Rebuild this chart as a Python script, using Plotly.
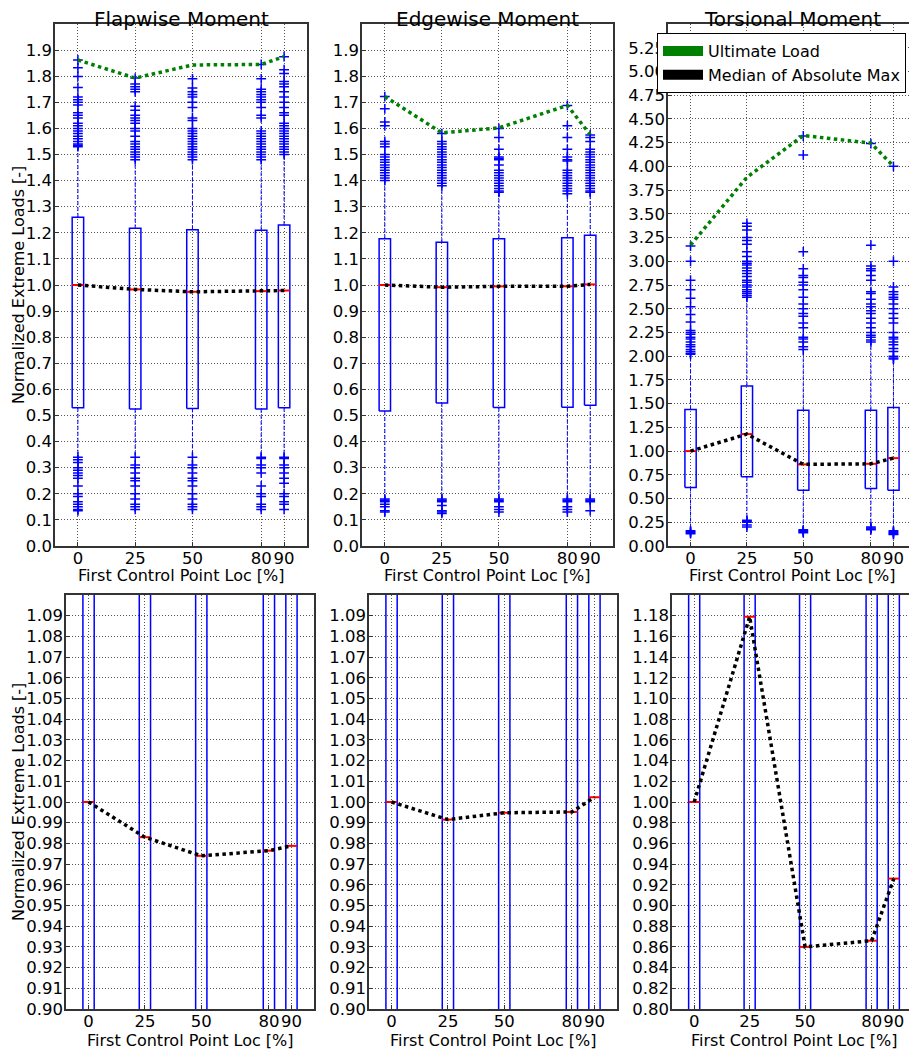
import plotly.graph_objects as go

# ---------------- data ----------------
positions = [0, 25, 50, 80, 90]
tick_text = ["0", "25", "50", "80", "90"]
box_width = 5

titles = ["Flapwise Moment", "Edgewise Moment", "Torsional Moment"]

# Flapwise
flap_ultimate = [1.862, 1.793, 1.843, 1.845, 1.875]
flap_median = [1.000, 0.983, 0.974, 0.9765, 0.9788]
flap_q1 = [0.530, 0.525, 0.527, 0.525, 0.530]
flap_q3 = [1.260, 1.217, 1.212, 1.210, 1.230]
flap_whisk_hi = [1.525, 1.475, 1.475, 1.475, 1.495]
flap_whisk_lo = [0.345, 0.345, 0.345, 0.345, 0.345]
flap_fliers = [
    [1.862, 1.832, 1.799, 1.757, 1.72, 1.71, 1.70, 1.69, 1.66, 1.65, 1.64, 1.62, 1.61, 1.60,
     1.59, 1.58, 1.57, 1.56, 1.55, 1.54, 1.535, 1.53,
     0.34, 0.33, 0.32, 0.30, 0.29, 0.28, 0.27, 0.26, 0.23, 0.20, 0.19, 0.17, 0.16, 0.15, 0.14, 0.135],
    [1.793, 1.77, 1.76, 1.75, 1.74, 1.685, 1.67, 1.65, 1.64, 1.63, 1.62, 1.60, 1.59, 1.57,
     1.55, 1.54, 1.53, 1.52, 1.51, 1.50, 1.49, 1.48,
     0.34, 0.31, 0.30, 0.28, 0.26, 0.25, 0.23, 0.20, 0.18, 0.16, 0.15, 0.14],
    [1.79, 1.755, 1.74, 1.73, 1.72, 1.70, 1.68, 1.64, 1.63, 1.60, 1.59, 1.58, 1.57, 1.56,
     1.55, 1.54, 1.53, 1.52, 1.51, 1.50, 1.49, 1.48,
     0.34, 0.31, 0.30, 0.28, 0.26, 0.25, 0.23, 0.20, 0.18, 0.16, 0.15, 0.14],
    [1.845, 1.79, 1.75, 1.74, 1.73, 1.72, 1.71, 1.70, 1.68, 1.65, 1.64, 1.59, 1.58, 1.57,
     1.56, 1.55, 1.54, 1.53, 1.52, 1.51, 1.50, 1.49, 1.48,
     0.34, 0.335, 0.31, 0.30, 0.28, 0.23, 0.20, 0.19, 0.16, 0.15, 0.14],
    [1.875, 1.825, 1.81, 1.78, 1.77, 1.76, 1.74, 1.72, 1.70, 1.68, 1.66, 1.65, 1.62, 1.61,
     1.60, 1.59, 1.58, 1.57, 1.56, 1.55, 1.54, 1.53, 1.52, 1.51, 1.50,
     0.34, 0.335, 0.31, 0.30, 0.28, 0.26, 0.24, 0.20, 0.19, 0.17, 0.16, 0.14],
]

# Edgewise
edge_ultimate = [1.722, 1.583, 1.602, 1.688, 1.576]
edge_median = [1.000, 0.9915, 0.9948, 0.9952, 1.0023]
edge_q1 = [0.517, 0.548, 0.531, 0.532, 0.539]
edge_q3 = [1.177, 1.164, 1.177, 1.181, 1.191]
edge_whisk_hi = [1.395, 1.375, 1.35, 1.345, 1.35]
edge_whisk_lo = [0.19, 0.19, 0.19, 0.19, 0.19]
edge_fliers = [
    [1.722, 1.675, 1.625, 1.61, 1.55, 1.54, 1.53, 1.50, 1.49, 1.48, 1.47, 1.46, 1.45, 1.44,
     1.43, 1.42, 1.41, 1.40,
     0.18, 0.175, 0.17, 0.16, 0.15, 0.135, 0.13],
    [1.58, 1.55, 1.54, 1.53, 1.52, 1.51, 1.50, 1.49, 1.48, 1.47, 1.46, 1.45, 1.44, 1.43,
     1.42, 1.41, 1.40, 1.39, 1.38,
     0.18, 0.175, 0.17, 0.155, 0.135, 0.13, 0.125],
    [1.60, 1.565, 1.52, 1.49, 1.485, 1.48, 1.46, 1.44, 1.43, 1.42, 1.41, 1.40, 1.39, 1.38,
     1.37, 1.36, 1.355,
     0.18, 0.175, 0.17, 0.15, 0.14, 0.13],
    [1.688, 1.61, 1.565, 1.52, 1.49, 1.48, 1.475, 1.44, 1.43, 1.42, 1.41, 1.40, 1.39, 1.38,
     1.37, 1.36, 1.35,
     0.18, 0.175, 0.17, 0.15, 0.14, 0.13],
    [1.575, 1.565, 1.55, 1.52, 1.51, 1.50, 1.49, 1.48, 1.47, 1.46, 1.45, 1.44, 1.43, 1.42,
     1.41, 1.40, 1.39, 1.38, 1.37, 1.36, 1.355,
     0.18, 0.175, 0.17, 0.135],
]

# Torsional
tors_ultimate = [3.171, 3.885, 4.325, 4.245, 4.003]
tors_median = [1.000, 1.179, 0.860, 0.866, 0.926]
tors_q1 = [0.616, 0.729, 0.588, 0.606, 0.588]
tors_q3 = [1.437, 1.687, 1.430, 1.430, 1.458]
tors_whisk_hi = [2.01, 2.6, 2.05, 2.13, 1.96]
tors_whisk_lo = [0.17, 0.28, 0.18, 0.21, 0.17]
tors_fliers = [
    [3.16, 3.00, 2.80, 2.70, 2.61, 2.52, 2.44, 2.36, 2.27, 2.25, 2.23, 2.20, 2.18, 2.15,
     2.12, 2.10, 2.07, 2.05, 2.03, 2.02,
     0.16, 0.15, 0.14, 0.13],
    [3.40, 3.37, 3.33, 3.25, 3.22, 3.18, 3.10, 3.05, 3.00, 2.98, 2.96, 2.93, 2.90, 2.87,
     2.84, 2.80, 2.78, 2.75, 2.73, 2.70, 2.68, 2.66, 2.64, 2.62,
     0.27, 0.26, 0.25, 0.22, 0.20],
    [4.32, 4.12, 3.10, 2.92, 2.85, 2.83, 2.78, 2.75, 2.70, 2.62, 2.55, 2.50, 2.45, 2.42,
     2.35, 2.30, 2.20, 2.18, 2.15, 2.10, 2.07,
     0.17, 0.16, 0.15, 0.14],
    [4.24, 3.17, 2.95, 2.92, 2.90, 2.85, 2.80, 2.68, 2.66, 2.60, 2.55, 2.52, 2.48, 2.45,
     2.40, 2.35, 2.30, 2.25, 2.22, 2.20, 2.17, 2.15,
     0.20, 0.19, 0.18, 0.17],
    [4.00, 3.00, 2.73, 2.68, 2.65, 2.62, 2.60, 2.55, 2.50, 2.45, 2.40, 2.35, 2.25, 2.20,
     2.18, 2.15, 2.12, 2.08, 2.05, 2.00, 1.98, 1.97,
     0.16, 0.15, 0.14, 0.13, 0.12],
]

legend_labels = ["Ultimate Load", "Median of Absolute Max"]

# y tick values (labels formatted by the axis)
yticks_top_fe = [i / 10 for i in range(20)]          # 0.0 .. 1.9
yticks_top_t = [i / 4 for i in range(22)]            # 0.00 .. 5.25
yticks_bot_fe = [0.90 + i / 100 for i in range(20)]  # 0.90 .. 1.09
yticks_bot_t = [0.80 + i / 50 for i in range(20)]    # 0.80 .. 1.18

moments = [
    (flap_ultimate, flap_median, flap_q1, flap_q3, flap_whisk_lo, flap_whisk_hi, flap_fliers),
    (edge_ultimate, edge_median, edge_q1, edge_q3, edge_whisk_lo, edge_whisk_hi, edge_fliers),
    (tors_ultimate, tors_median, tors_q1, tors_q3, tors_whisk_lo, tors_whisk_hi, tors_fliers),
]

# ---------------- layout geometry (page pixels) ----------------
OFF = 8                      # default page margin around the plot div
W, H = 917 - OFF, 1054 - OFF
top_x = [(55, 307), (362, 613), (668, 916)]
bot_x = [(66, 314), (369, 617), (672, 916)]
top_y = (24, 546)
bot_y = (595, 1009)

top_ranges = [(0, 2.0), (0, 2.0), (0, 5.5)]
top_ticks = [yticks_top_fe, yticks_top_fe, yticks_top_t]
top_fmt = [".1f", ".1f", ".2f"]
bot_ranges = [(0.9, 1.1), (0.9, 1.1), (0.8, 1.2)]
bot_ticks = [yticks_bot_fe, yticks_bot_fe, yticks_bot_t]
bot_fmt = [".2f", ".2f", ".2f"]

FONT = "DejaVu Sans"
BLUE = "#0000ff"
TICKSIZE = 16.5

fig = go.Figure()


def px_x(v):
    return (v - OFF) / W


def px_y(v):
    return 1 - (v - OFF) / H


layout = dict(
    width=W, height=H, template="none",
    margin=dict(l=0, r=0, t=0, b=0),
    paper_bgcolor="white", plot_bgcolor="white",
    showlegend=True,
    font=dict(family=FONT, size=15, color="black"),
)

annotations = []

for row in range(2):
    for col in range(3):
        idx = row * 3 + col + 1
        xs = "" if idx == 1 else str(idx)
        xa, ya = "x" + xs, "y" + xs
        xr = top_x[col] if row == 0 else bot_x[col]
        yr = top_y if row == 0 else bot_y
        rng = top_ranges[col] if row == 0 else bot_ranges[col]
        tv = top_ticks[col] if row == 0 else bot_ticks[col]
        fmt = top_fmt[col] if row == 0 else bot_fmt[col]

        layout["xaxis" + xs] = dict(
            domain=[px_x(xr[0]), px_x(xr[1])], anchor=ya,
            range=[-10, 100], tickmode="array", tickvals=positions, ticktext=tick_text,
            tickangle=0,
            showgrid=True, gridcolor="#555", griddash="1px,2px", gridwidth=1,
            showline=True, mirror=True, linecolor="#333", linewidth=1.5,
            ticks="inside", ticklen=4, tickcolor="#333",
            zeroline=False, automargin=False, ticklabelstandoff=-4,
            tickfont=dict(family=FONT, size=TICKSIZE, color="black"),
        )
        layout["yaxis" + xs] = dict(
            domain=[px_y(yr[1]), px_y(yr[0])], anchor=xa,
            range=list(rng), tickmode="array", tickvals=tv, tickformat=fmt,
            showgrid=True, gridcolor="#555", griddash="1px,2px", gridwidth=1,
            showline=True, mirror=True, linecolor="#333", linewidth=1.5,
            ticks="inside", ticklen=4, tickcolor="#333",
            zeroline=False, automargin=False, ticklabelstandoff=-2,
            tickfont=dict(family=FONT, size=TICKSIZE, color="black"),
        )

        ult, med, q1, q3, wlo, whi, fliers = moments[col]

        # whiskers
        wx, wy = [], []
        for p, a, b, c, d in zip(positions, q3, whi, q1, wlo):
            wx += [p, p, None, p, p, None]
            wy += [a, b, None, c, d, None]
        fig.add_trace(go.Scatter(x=wx, y=wy, mode="lines", xaxis=xa, yaxis=ya,
                                 line=dict(color=BLUE, width=1, dash="4px,2px"),
                                 showlegend=False, hoverinfo="skip"))
        # boxes
        bx, by = [], []
        for p, a, b in zip(positions, q1, q3):
            l, r = p - box_width / 2, p + box_width / 2
            bx += [l, r, r, l, l, None]
            by += [a, a, b, b, a, None]
        fig.add_trace(go.Scatter(x=bx, y=by, mode="lines", xaxis=xa, yaxis=ya,
                                 line=dict(color=BLUE, width=1.5),
                                 showlegend=False, hoverinfo="skip"))
        # medians (red)
        mx, my = [], []
        for p, m in zip(positions, med):
            mx += [p - box_width / 2, p + box_width / 2, None]
            my += [m, m, None]
        fig.add_trace(go.Scatter(x=mx, y=my, mode="lines", xaxis=xa, yaxis=ya,
                                 line=dict(color="red", width=2),
                                 showlegend=False, hoverinfo="skip"))
        # fliers
        fx, fy = [], []
        for p, fl in zip(positions, fliers):
            fx += [p] * len(fl)
            fy += fl
        fig.add_trace(go.Scatter(x=fx, y=fy, mode="markers", xaxis=xa, yaxis=ya,
                                 marker=dict(symbol="cross-thin", size=7,
                                             line=dict(color=BLUE, width=1.5)),
                                 showlegend=False, hoverinfo="skip"))
        # ultimate load line
        fig.add_trace(go.Scatter(x=positions, y=ult, mode="lines", xaxis=xa, yaxis=ya,
                                 line=dict(color="#008000", width=3.5, dash="dot"),
                                 showlegend=False))
        # median line
        fig.add_trace(go.Scatter(x=positions, y=med, mode="lines", xaxis=xa, yaxis=ya,
                                 line=dict(color="black", width=3.5, dash="dot"),
                                 showlegend=False))

        # x title
        xc = (xr[0] + xr[1]) / 2
        ty = 575 if row == 0 else 1040
        annotations.append(dict(text="First Control Point Loc [%]", x=px_x(xc), y=px_y(ty),
                                xref="paper", yref="paper", showarrow=False,
                                xanchor="center", yanchor="middle",
                                font=dict(family=FONT, size=16)))
        if row == 0:
            annotations.append(dict(text=titles[col], x=px_x(xc), y=px_y(19),
                                    xref="paper", yref="paper", showarrow=False,
                                    xanchor="center", yanchor="middle",
                                    font=dict(family=FONT, size=20)))
        if col == 0:
            yc = (yr[0] + yr[1]) / 2
            annotations.append(dict(text="Normalized Extreme Loads [-]", x=px_x(18), y=px_y(yc),
                                    xref="paper", yref="paper", showarrow=False, textangle=-90,
                                    xanchor="center", yanchor="middle",
                                    font=dict(family=FONT, size=16)))

# legend entries (patches)
for lab, colr in zip(legend_labels, ["#008000", "black"]):
    fig.add_trace(go.Scatter(x=[None], y=[None], mode="lines", xaxis="x3", yaxis="y3",
                             name=lab, line=dict(color=colr, width=12), showlegend=True))

layout["legend"] = dict(x=px_x(657), y=px_y(33), xanchor="left", yanchor="top",
                        bgcolor="white", bordercolor="black", borderwidth=1,
                        font=dict(family=FONT, size=16), itemwidth=40,
                        tracegroupgap=0)
layout["annotations"] = annotations
fig.update_layout(**layout)

fig.write_html("out.html")
